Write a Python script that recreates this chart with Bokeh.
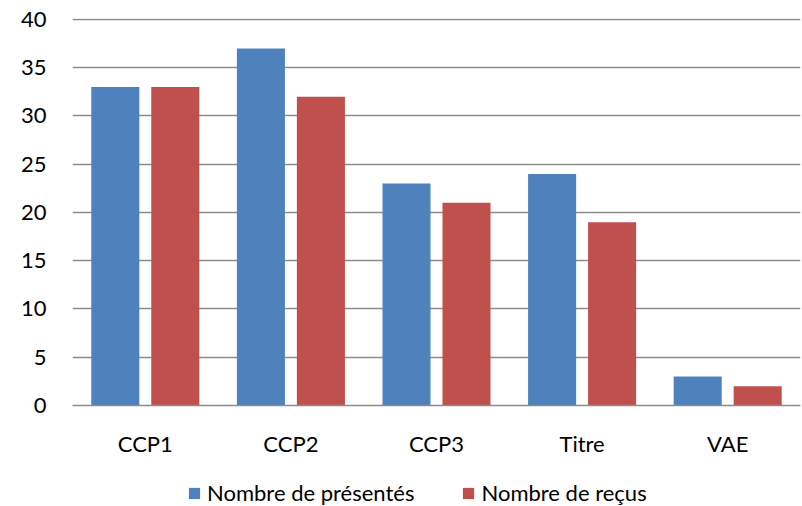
from bokeh.plotting import figure
from bokeh.models import (ColumnDataSource, FactorRange, Range1d, FixedTicker,
                          Legend, LegendItem)
from bokeh.layouts import column
from bokeh.transform import dodge
from bokeh.embed import file_html
from bokeh.resources import INLINE

categories = ["CCP1", "CCP2", "CCP3", "Titre", "VAE"]
presentes = [33, 37, 23, 24, 3]
recus = [33, 32, 21, 19, 2]
y_ticks = [0, 5, 10, 15, 20, 25, 30, 35, 40]
series_names = ["Nombre de présentés", "Nombre de reçus"]

BLUE = "#4F81BD"
RED = "#C0504D"
GRID = "#8c8c8c"
FONT = "Lato"
FS = "22px"

src = ColumnDataSource(dict(cat=categories, p=presentes, r=recus))

p = figure(width=802, height=460, output_backend="svg", toolbar_location=None,
           x_range=FactorRange(factors=categories, range_padding=0),
           y_range=Range1d(0, 40.1),
           min_border_left=72, min_border_right=2, min_border_top=18,
           min_border_bottom=55)
p.outline_line_color = None
p.background_fill_color = "white"
p.border_fill_color = "white"

p.vbar(x=dodge("cat", -0.206, range=p.x_range), top="p", width=0.33,
       source=src, fill_color=BLUE, line_color=None)
p.vbar(x=dodge("cat", 0.206, range=p.x_range), top="r", width=0.33,
       source=src, fill_color=RED, line_color=None)

# y axis
p.yaxis.ticker = FixedTicker(ticks=y_ticks)
p.yaxis.axis_line_color = None
p.yaxis.major_tick_line_color = None
p.yaxis.minor_tick_line_color = None
p.yaxis.major_tick_out = 0
p.yaxis.major_tick_in = 0
p.yaxis.major_label_standoff = 26
p.yaxis.major_label_text_font = FONT
p.yaxis.major_label_text_font_size = FS
p.yaxis.major_label_text_color = "black"

# x axis
p.xaxis.axis_line_color = GRID
p.xaxis.axis_line_width = 1.5
p.xaxis.major_tick_line_color = None
p.xaxis.minor_tick_line_color = None
p.xaxis.major_tick_out = 0
p.xaxis.major_tick_in = 0
p.xaxis.major_label_standoff = 24
p.xaxis.major_label_text_font = FONT
p.xaxis.major_label_text_font_size = FS
p.xaxis.major_label_text_color = "black"

p.xgrid.grid_line_color = None
p.ygrid.ticker = FixedTicker(ticks=y_ticks)
p.ygrid.grid_line_color = GRID
p.ygrid.grid_line_width = 1.5

# legend strip below the chart (its frame is aligned with the chart's frame)
lg = figure(width=802, height=46, output_backend="svg", toolbar_location=None,
            x_axis_type=None, y_axis_type=None,
            x_range=Range1d(0, 1), y_range=Range1d(0, 1),
            min_border=0)
lg.outline_line_color = None
lg.xgrid.grid_line_color = None
lg.ygrid.grid_line_color = None
# swatch renderers for the legend: zero-height, outside the visible range
d1 = lg.vbar(x=[-10], top=[0], width=0.1, fill_color=BLUE, line_color=None)
d2 = lg.vbar(x=[-10], top=[0], width=0.1, fill_color=RED, line_color=None)

legend = Legend(items=[LegendItem(label=series_names[0], renderers=[d1]),
                       LegendItem(label=series_names[1], renderers=[d2])],
                orientation="horizontal", location=(115, 0),
                border_line_color=None, background_fill_alpha=0,
                padding=0, margin=0, spacing=47,
                glyph_width=14, glyph_height=14, label_standoff=6,
                label_text_font=FONT, label_text_font_size=FS,
                label_text_color="black")
lg.add_layout(legend, "center")

layout = column(p, lg, spacing=0)
open("out.html", "w").write(file_html(layout, INLINE))
